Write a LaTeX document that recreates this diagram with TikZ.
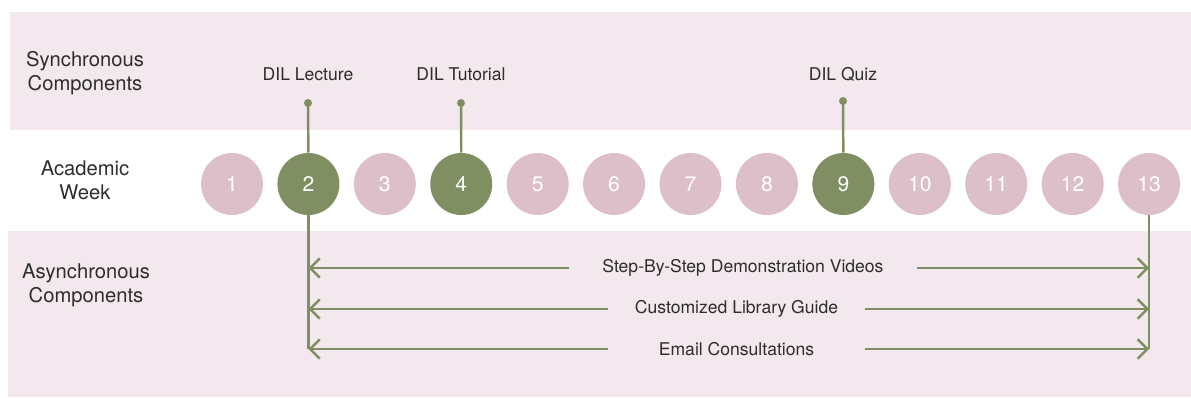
\documentclass[tikz,border=0pt]{standalone}
\usepackage{fontspec}
\setmainfont{TeX Gyre Heros}
\usepackage{xcolor}
\usepackage{tikz}
\usetikzlibrary{positioning}
\usetikzlibrary{arrows.meta}

\definecolor{bandpink}{RGB}{243,232,237}
\definecolor{weekpink}{RGB}{221,191,201}
\definecolor{weekgreen}{RGB}{127,143,98}
\definecolor{txtgray}{RGB}{45,45,45}

\tikzset{
  band/.style={fill=bandpink,draw=none},
  rowlabel/.style={align=center,text=txtgray,font=\fontsize{11.5}{13.8}\selectfont},
  week/.style={circle,minimum size=1.24cm,inner sep=0pt,text=white,
               font=\fontsize{12}{14}\selectfont,fill=weekpink},
  active/.style={week,fill=weekgreen},
  event/.style={text=txtgray,font=\fontsize{10}{12}\selectfont},
  stem/.style={draw=weekgreen,line width=1.4pt},
  span/.style={stem,-{Straight Barb[length=5.5pt,width=11pt]}},
}

\begin{document}
\begin{tikzpicture}[x=0.02cm,y=-0.02cm]
\useasboundingbox (0,0) rectangle (1191,397);

% bands
\fill[band] (10,12) rectangle (1191,130);
\fill[band] (8,231) rectangle (1191,397);

% row titles
\node[rowlabel] (sync)  at (85,73)  {Synchronous\\Components};
\node[rowlabel] (acad)  at (85,180) {Academic\\Week};
\node[rowlabel] (async) at (86,285) {Asynchronous\\Components};

% weeks
\foreach \i in {1,...,13}{
  \ifnum\i=2 \def\wk{active}\else\ifnum\i=4 \def\wk{active}\else
  \ifnum\i=9 \def\wk{active}\else \def\wk{week}\fi\fi\fi
  \node[\wk] (w\i) at ({232+(\i-1)*76.42},184) {\i};
}

% synchronous components
\node[event] (lect) at (308,74) {DIL Lecture};
\node[event] (tuto) at (461,74) {DIL Tutorial};
\node[event] (quiz) at (843,74) {DIL Quiz};
\coordinate (dlect) at (308,103);
\coordinate (dtuto) at (461,103);
\coordinate (dquiz) at (843,101);
\foreach \d/\w in {dlect/w2,dtuto/w4,dquiz/w9}{
  \draw[stem] (\d) -- (\w.north);
  \fill[weekgreen] (\d) circle (0.08cm);
}

% asynchronous components
\node[event,minimum width=6.96cm] (vid)  at (743,268)   {Step-By-Step Demonstration Videos};
\node[event,minimum width=5.14cm] (guide) at (736.5,309) {Customized Library Guide};
\node[event,minimum width=5.14cm] (mail) at (736.5,349) {Email Consultations};

\draw[stem] (w2.south) -- (w2.south |- mail);
\draw[stem] (w13.south) -- (w13.south |- mail);
\foreach \n in {vid,guide,mail}{
  \draw[span] (\n.west) -- (\n.west -| w2);
  \draw[span] (\n.east) -- (\n.east -| w13);
}
\end{tikzpicture}
\end{document}
